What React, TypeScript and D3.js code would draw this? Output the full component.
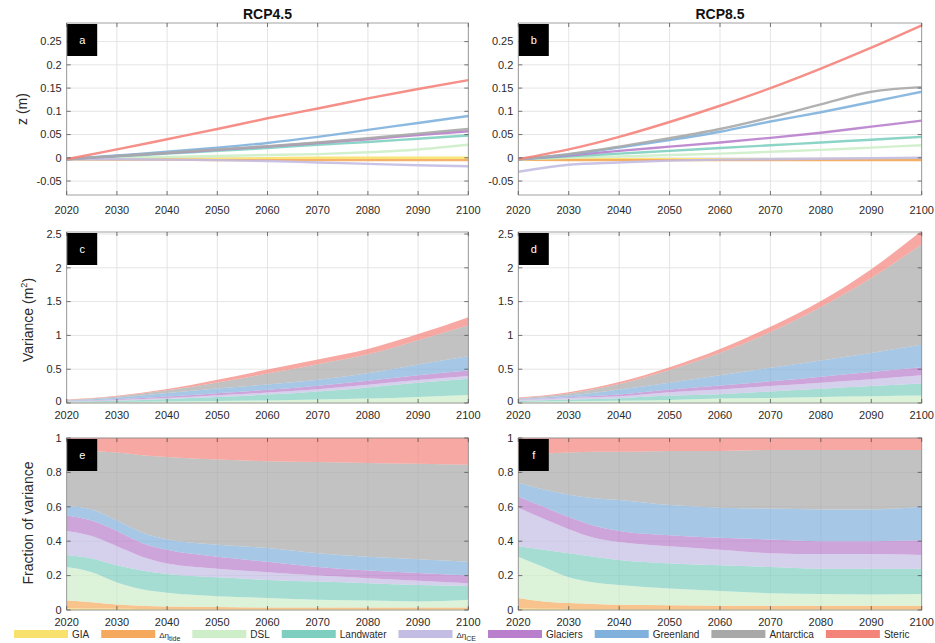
import React, { useEffect, useRef } from 'react';
import * as d3 from 'd3';

// Sea-level components, RCP4.5 vs RCP8.5

const years = [2020, 2030, 2040, 2050, 2060, 2070, 2080, 2090, 2100];
const fracYears = [2020, 2025, 2030, 2035, 2040, 2050, 2060, 2070, 2080, 2090, 2100];
const yearTicks = [2020, 2030, 2040, 2050, 2060, 2070, 2080, 2090, 2100];
const zTicks = [-0.05, 0, 0.05, 0.1, 0.15, 0.2, 0.25];
const varTicks = [0, 0.5, 1, 1.5, 2, 2.5];
const fracTicks = [0, 0.2, 0.4, 0.6, 0.8, 1];

const components = ['GIA', 'tide', 'DSL', 'Landwater', 'CE', 'Glaciers', 'Greenland', 'Antarctica', 'Steric'];
const colors = ['#f8e16c', '#f5a95c', '#cdeec9', '#7fcfc0', '#c3bce3', '#b97fcc', '#80b1dc', '#a8a8a8', '#f4837a'];
const scenarios = ['RCP4.5', 'RCP8.5'];

// panel a: z (m), RCP4.5, one row per component (order as components)
const zRcp45 = [
  [-0.003, -0.003, -0.002, -0.002, -0.001, 0, 0, 0, 0],
  [-0.003, -0.004, -0.004, -0.005, -0.005, -0.005, -0.005, -0.005, -0.005],
  [-0.003, 0, 0.002, 0.004, 0.006, 0.008, 0.012, 0.018, 0.028],
  [-0.003, 0.003, 0.009, 0.015, 0.021, 0.028, 0.034, 0.041, 0.048],
  [-0.003, -0.003, -0.004, -0.005, -0.007, -0.01, -0.013, -0.016, -0.018],
  [-0.003, 0.004, 0.01, 0.017, 0.024, 0.032, 0.04, 0.049, 0.057],
  [-0.003, 0.005, 0.013, 0.022, 0.032, 0.045, 0.06, 0.075, 0.09],
  [-0.003, 0.004, 0.011, 0.018, 0.025, 0.033, 0.042, 0.052, 0.062],
  [-0.003, 0.018, 0.04, 0.062, 0.085, 0.106, 0.128, 0.148, 0.167],
];

// panel b: z (m), RCP8.5
const zRcp85 = [
  [-0.003, -0.003, -0.003, -0.003, -0.003, -0.003, -0.003, -0.003, -0.003],
  [-0.004, -0.005, -0.005, -0.005, -0.005, -0.005, -0.005, -0.005, -0.005],
  [-0.003, 0, 0.003, 0.006, 0.009, 0.013, 0.017, 0.022, 0.027],
  [-0.003, 0.003, 0.009, 0.015, 0.021, 0.027, 0.033, 0.039, 0.045],
  [-0.03, -0.015, -0.01, -0.006, -0.004, -0.003, -0.002, -0.001, 0],
  [-0.003, 0.005, 0.015, 0.024, 0.033, 0.043, 0.054, 0.067, 0.08],
  [-0.003, 0.007, 0.022, 0.038, 0.056, 0.078, 0.098, 0.12, 0.142],
  [-0.003, 0.008, 0.024, 0.042, 0.062, 0.087, 0.115, 0.142, 0.152],
  [-0.003, 0.018, 0.045, 0.077, 0.112, 0.15, 0.192, 0.237, 0.285],
];

// panel c: variance (m^2), RCP4.5
const varRcp45 = [
  [0.002, 0.002, 0.002, 0.002, 0.002, 0.002, 0.002, 0.002, 0.002],
  [0.003, 0.003, 0.003, 0.003, 0.003, 0.003, 0.003, 0.003, 0.003],
  [0.007, 0.011, 0.017, 0.025, 0.033, 0.045, 0.06, 0.085, 0.115],
  [0.006, 0.019, 0.038, 0.06, 0.087, 0.12, 0.165, 0.21, 0.24],
  [0.007, 0.01, 0.015, 0.025, 0.03, 0.035, 0.04, 0.04, 0.04],
  [0.005, 0.012, 0.022, 0.03, 0.04, 0.05, 0.06, 0.07, 0.08],
  [0.005, 0.02, 0.05, 0.07, 0.08, 0.09, 0.11, 0.16, 0.21],
  [0.01, 0.02, 0.04, 0.09, 0.16, 0.23, 0.28, 0.36, 0.46],
  [0.005, 0.01, 0.02, 0.04, 0.06, 0.07, 0.08, 0.09, 0.12],
];

// panel d: variance (m^2), RCP8.5
const varRcp85 = [
  [0.002, 0.002, 0.002, 0.002, 0.002, 0.002, 0.002, 0.002, 0.002],
  [0.003, 0.003, 0.003, 0.003, 0.003, 0.003, 0.003, 0.003, 0.003],
  [0.01, 0.02, 0.03, 0.04, 0.06, 0.07, 0.085, 0.095, 0.105],
  [0.015, 0.025, 0.035, 0.065, 0.065, 0.095, 0.12, 0.15, 0.18],
  [0.015, 0.025, 0.03, 0.05, 0.07, 0.08, 0.09, 0.1, 0.12],
  [0.005, 0.01, 0.025, 0.04, 0.06, 0.07, 0.09, 0.11, 0.12],
  [0.01, 0.025, 0.075, 0.1, 0.15, 0.2, 0.24, 0.28, 0.33],
  [0.01, 0.03, 0.08, 0.19, 0.33, 0.53, 0.79, 1.11, 1.49],
  [0.01, 0.02, 0.03, 0.04, 0.06, 0.08, 0.09, 0.13, 0.2],
];

// panel e: fraction of variance, RCP4.5 (fracYears)
const fracRcp45 = [
  [0.01, 0.008, 0.007, 0.006, 0.005, 0.005, 0.005, 0.005, 0.005, 0.005, 0.005],
  [0.045, 0.037, 0.025, 0.019, 0.015, 0.012, 0.01, 0.01, 0.01, 0.01, 0.01],
  [0.195, 0.175, 0.128, 0.095, 0.08, 0.063, 0.055, 0.045, 0.04, 0.035, 0.045],
  [0.07, 0.08, 0.1, 0.11, 0.11, 0.11, 0.105, 0.105, 0.1, 0.095, 0.08],
  [0.14, 0.13, 0.11, 0.08, 0.06, 0.05, 0.045, 0.035, 0.03, 0.025, 0.015],
  [0.09, 0.09, 0.09, 0.08, 0.08, 0.07, 0.06, 0.05, 0.045, 0.045, 0.045],
  [0.055, 0.065, 0.06, 0.06, 0.06, 0.07, 0.08, 0.08, 0.08, 0.08, 0.08],
  [0.335, 0.34, 0.395, 0.45, 0.48, 0.495, 0.505, 0.53, 0.545, 0.555, 0.565],
  [0.06, 0.075, 0.085, 0.1, 0.11, 0.125, 0.135, 0.14, 0.145, 0.15, 0.155],
];

// panel f: fraction of variance, RCP8.5 (fracYears)
const fracRcp85 = [
  [0.008, 0.007, 0.006, 0.005, 0.005, 0.005, 0.005, 0.005, 0.005, 0.005, 0.005],
  [0.062, 0.043, 0.034, 0.03, 0.025, 0.022, 0.02, 0.02, 0.02, 0.02, 0.02],
  [0.24, 0.2, 0.15, 0.125, 0.115, 0.098, 0.085, 0.072, 0.068, 0.065, 0.068],
  [0.06, 0.1, 0.14, 0.15, 0.145, 0.145, 0.15, 0.153, 0.147, 0.15, 0.147],
  [0.225, 0.18, 0.14, 0.11, 0.105, 0.1, 0.09, 0.08, 0.085, 0.085, 0.08],
  [0.065, 0.07, 0.07, 0.07, 0.065, 0.065, 0.07, 0.08, 0.075, 0.075, 0.085],
  [0.08, 0.1, 0.13, 0.16, 0.18, 0.175, 0.175, 0.18, 0.185, 0.185, 0.195],
  [0.16, 0.21, 0.245, 0.27, 0.28, 0.315, 0.33, 0.34, 0.345, 0.345, 0.33],
  [0.1, 0.09, 0.085, 0.08, 0.08, 0.075, 0.075, 0.07, 0.07, 0.07, 0.07],
];

const FONT = '"Liberation Sans", Arial, Helvetica, sans-serif';
const W = 935;
const H = 643;

const App = () => {
  const svgRef = useRef(null);

  useEffect(() => {
    const svg = d3.select(svgRef.current);
    svg.selectAll('*').remove();

    const cols = [
      { x0: 66.7, x1: 468.3 },
      { x0: 518.3, x1: 921.7 },
    ];
    const rows = [
      { top: 23, bottom: 195, domain: [-0.08, 0.29], ticks: zTicks, labelDy: 19 },
      { top: 232, bottom: 403, domain: [0, 2.53], ticks: varTicks, labelDy: 16 },
      { top: 438, bottom: 610, domain: [0, 1], ticks: fracTicks, labelDy: 16 },
    ];

    const panels = [
      { row: 0, col: 0, letter: 'a', kind: 'line', xs: years, data: zRcp45 },
      { row: 0, col: 1, letter: 'b', kind: 'line', xs: years, data: zRcp85 },
      { row: 1, col: 0, letter: 'c', kind: 'area', xs: years, data: varRcp45 },
      { row: 1, col: 1, letter: 'd', kind: 'area', xs: years, data: varRcp85 },
      { row: 2, col: 0, letter: 'e', kind: 'area', xs: fracYears, data: fracRcp45 },
      { row: 2, col: 1, letter: 'f', kind: 'area', xs: fracYears, data: fracRcp85 },
    ];

    const fmt = (v) => (v === 0 ? '0' : String(+v.toFixed(2)));

    panels.forEach((p) => {
      const c = cols[p.col];
      const r = rows[p.row];
      const x = d3.scaleLinear().domain([2020, 2100]).range([c.x0, c.x1]);
      const y = d3.scaleLinear().domain(r.domain).range([r.bottom, r.top]);
      const g = svg.append('g');

      // grid
      g.selectAll('.vgrid')
        .data(yearTicks)
        .enter()
        .append('line')
        .attr('x1', (d) => x(d))
        .attr('x2', (d) => x(d))
        .attr('y1', r.top)
        .attr('y2', r.bottom)
        .attr('stroke', '#dedede')
        .attr('stroke-width', 0.8);
      g.selectAll('.hgrid')
        .data(r.ticks)
        .enter()
        .append('line')
        .attr('x1', c.x0)
        .attr('x2', c.x1)
        .attr('y1', (d) => y(d))
        .attr('y2', (d) => y(d))
        .attr('stroke', '#dedede')
        .attr('stroke-width', 0.8);

      if (p.kind === 'line') {
        const line = d3
          .line()
          .x((d) => x(d[0]))
          .y((d) => y(d[1]))
          .curve(d3.curveMonotoneX);
        p.data.forEach((vals, i) => {
          g.append('path')
            .attr('d', line(p.xs.map((yr, j) => [yr, vals[j]])))
            .attr('fill', 'none')
            .attr('stroke', colors[i])
            .attr('stroke-width', 2.4)
            .attr('stroke-opacity', 0.9);
        });
      } else {
        const table = p.xs.map((yr, j) => {
          const row = { year: yr };
          components.forEach((k, i) => {
            row[k] = p.data[i][j];
          });
          return row;
        });
        const stacked = d3.stack().keys(components)(table);
        const area = d3
          .area()
          .x((d) => x(d.data.year))
          .y0((d) => y(d[0]))
          .y1((d) => y(d[1]))
          .curve(d3.curveMonotoneX);
        stacked.forEach((s, i) => {
          g.append('path')
            .attr('d', area(s))
            .attr('fill', colors[i])
            .attr('fill-opacity', 0.7);
        });
      }

      // box
      g.append('rect')
        .attr('x', c.x0)
        .attr('y', r.top)
        .attr('width', c.x1 - c.x0)
        .attr('height', r.bottom - r.top)
        .attr('fill', 'none')
        .attr('stroke', '#8a8a8a')
        .attr('stroke-width', 0.8);

      // inward ticks on all sides
      yearTicks.forEach((t) => {
        g.append('line').attr('x1', x(t)).attr('x2', x(t)).attr('y1', r.bottom).attr('y2', r.bottom - 4)
          .attr('stroke', '#555').attr('stroke-width', 0.8);
        g.append('line').attr('x1', x(t)).attr('x2', x(t)).attr('y1', r.top).attr('y2', r.top + 4)
          .attr('stroke', '#555').attr('stroke-width', 0.8);
      });
      r.ticks.forEach((t) => {
        g.append('line').attr('x1', c.x0).attr('x2', c.x0 + 4).attr('y1', y(t)).attr('y2', y(t))
          .attr('stroke', '#555').attr('stroke-width', 0.8);
        g.append('line').attr('x1', c.x1).attr('x2', c.x1 - 4).attr('y1', y(t)).attr('y2', y(t))
          .attr('stroke', '#555').attr('stroke-width', 0.8);
      });

      // tick labels
      g.selectAll('.xl')
        .data(yearTicks)
        .enter()
        .append('text')
        .attr('x', (d) => x(d))
        .attr('y', r.bottom + r.labelDy)
        .attr('text-anchor', 'middle')
        .attr('font-family', FONT)
        .attr('font-size', 11)
        .attr('fill', '#2a2a2a')
        .text((d) => d);
      g.selectAll('.yl')
        .data(r.ticks)
        .enter()
        .append('text')
        .attr('x', c.x0 - 5)
        .attr('y', (d) => y(d) - (p.row === 1 && d === 0 ? 2 : 0))
        .attr('dy', '0.35em')
        .attr('text-anchor', 'end')
        .attr('font-family', FONT)
        .attr('font-size', 11)
        .attr('fill', '#2a2a2a')
        .text((d) => fmt(d));

      // panel letter
      g.append('rect')
        .attr('x', c.x0 + 0.5)
        .attr('y', r.top + 1)
        .attr('width', 30)
        .attr('height', 32)
        .attr('fill', '#000');
      g.append('text')
        .attr('x', c.x0 + 15.5)
        .attr('y', r.top + 17)
        .attr('dy', '0.35em')
        .attr('text-anchor', 'middle')
        .attr('font-family', FONT)
        .attr('font-size', 11)
        .attr('fill', '#fff')
        .text(p.letter);
    });

    // column titles
    scenarios.forEach((s, i) => {
      svg.append('text')
        .attr('x', (cols[i].x0 + cols[i].x1) / 2)
        .attr('y', 19)
        .attr('text-anchor', 'middle')
        .attr('font-family', FONT)
        .attr('font-weight', 'bold')
        .attr('font-size', 14)
        .attr('fill', '#111')
        .text(s);
    });

    // y axis titles
    const yTitle = (cx, cy) =>
      svg.append('text')
        .attr('transform', `translate(${cx},${cy}) rotate(-90)`)
        .attr('text-anchor', 'middle')
        .attr('font-family', FONT)
        .attr('font-size', 14)
        .attr('fill', '#2a2a2a');
    yTitle(27, 109).text('z (m)');
    const vt = yTitle(33, 320);
    vt.append('tspan').text('Variance (m');
    vt.append('tspan').attr('font-size', 9).attr('dy', -6).text('2');
    vt.append('tspan').attr('dy', 6).text(')');
    yTitle(33, 523).text('Fraction of variance');

    // legend
    const lg = svg.append('g');
    let cx = 14;
    const ly = 630;
    components.forEach((k, i) => {
      lg.append('rect')
        .attr('x', cx)
        .attr('y', ly)
        .attr('width', 54)
        .attr('height', 8)
        .attr('fill', colors[i]);
      const t = lg.append('text')
        .attr('x', cx + 58)
        .attr('y', ly + 8)
        .attr('font-family', FONT)
        .attr('font-size', 10)
        .attr('fill', '#2a2a2a');
      if (k === 'tide' || k === 'CE') {
        t.append('tspan').attr('font-size', 8).text('Δη');
        t.append('tspan').attr('font-size', 7).attr('dy', 3).text(k);
      } else {
        t.text(k);
      }
      const w = t.node().getComputedTextLength();
      cx += 58 + w + 12;
    });
  }, []);

  return (
    <svg
      ref={svgRef}
      width={W}
      height={H}
      style={{ position: 'absolute', left: 0, top: 0, background: '#fff' }}
    />
  );
};

export default App;
